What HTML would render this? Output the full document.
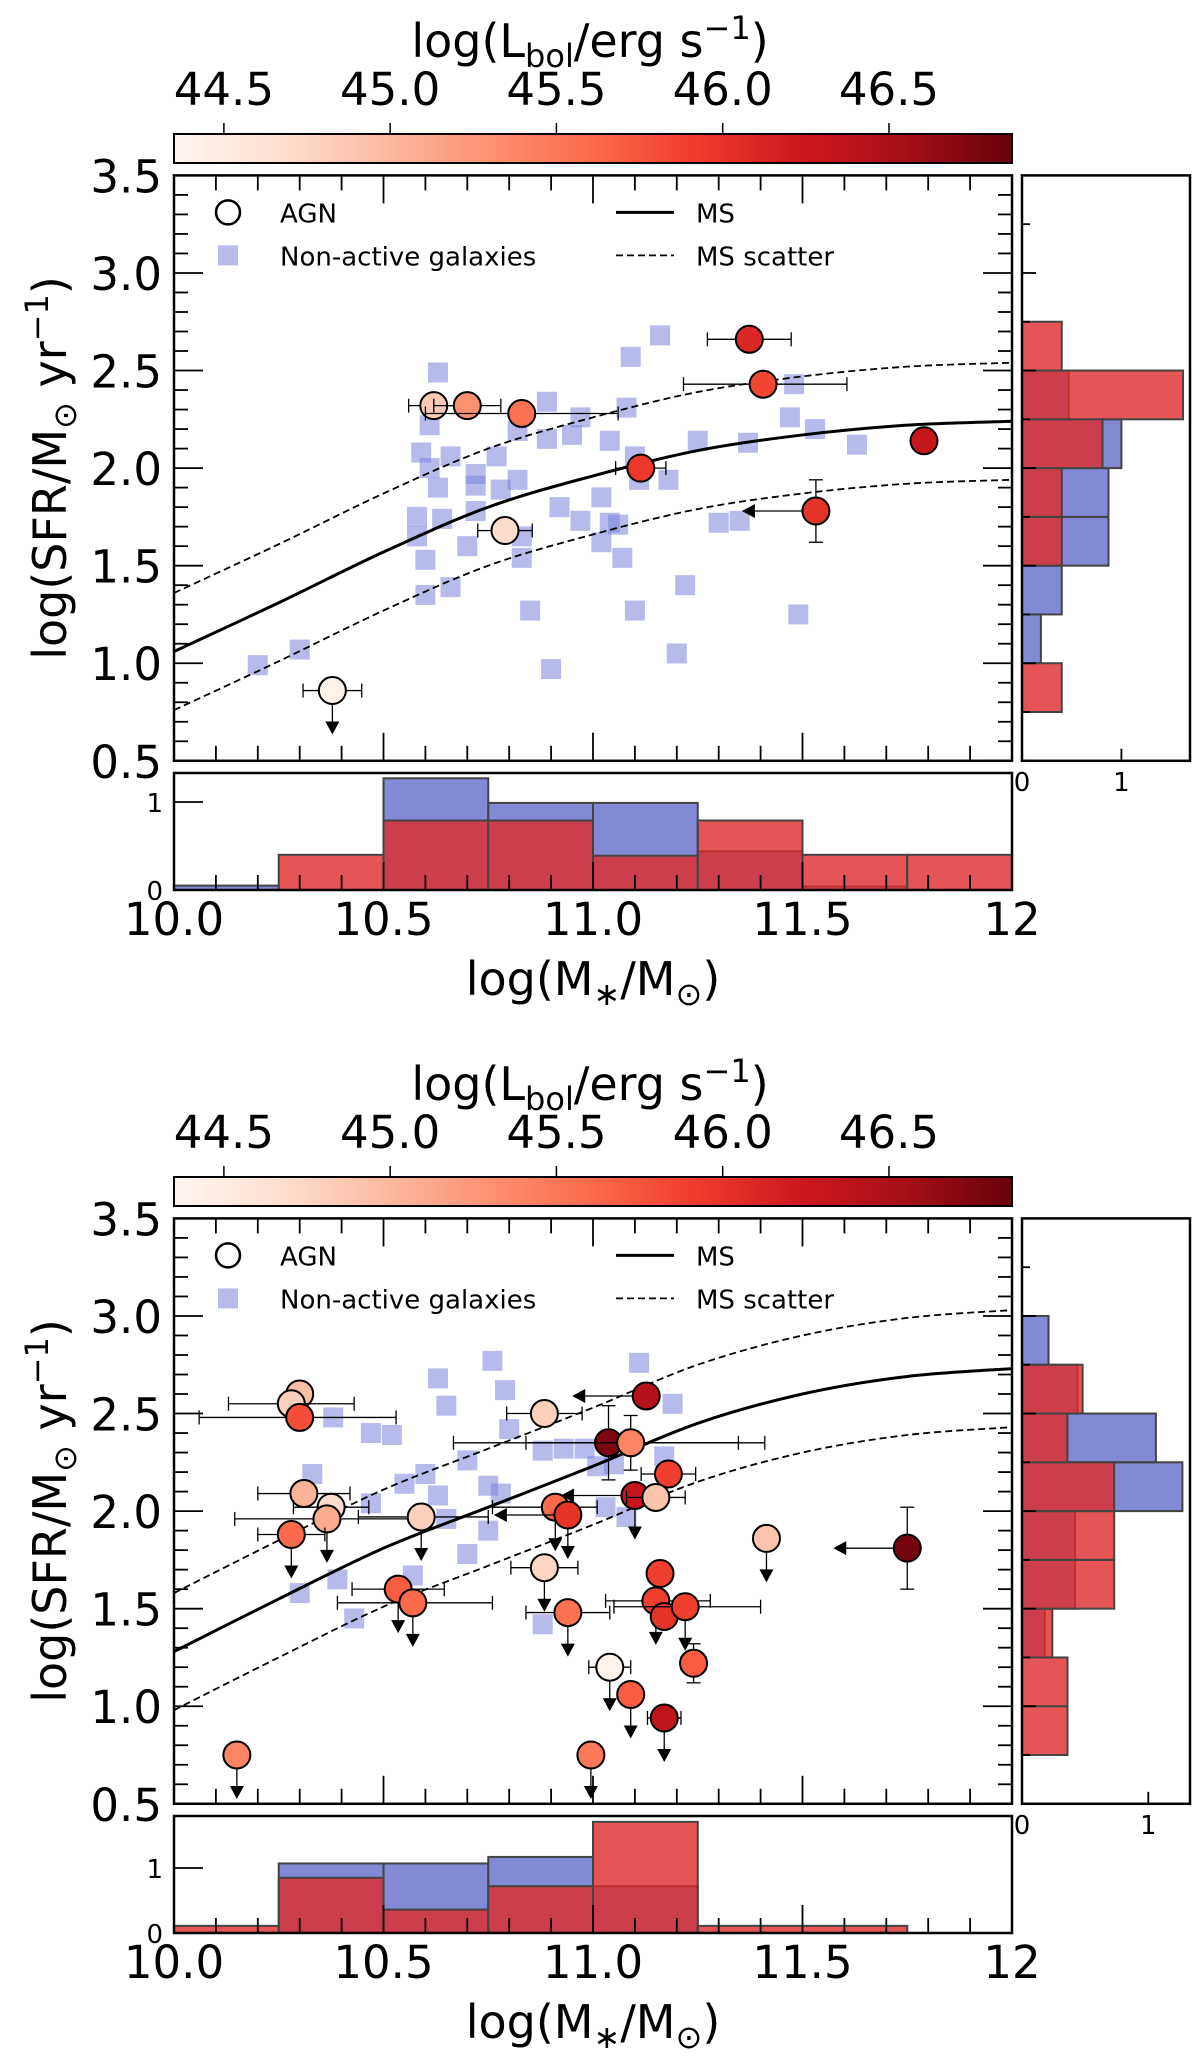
<!DOCTYPE html>
<html><head><meta charset="utf-8">
<style>
html,body{margin:0;padding:0;background:#fff;}
svg{display:block;font-family:"DejaVu Sans","Liberation Sans",sans-serif;}
</style></head>
<body>
<svg id="fig" width="1200" height="2061" viewBox="0 0 1200 2061" xmlns="http://www.w3.org/2000/svg">
<defs>
<linearGradient id="reds" x1="0" x2="1" y1="0" y2="0">
<stop offset="0" stop-color="#fff5f0"/><stop offset="0.125" stop-color="#fee0d2"/><stop offset="0.25" stop-color="#fcbba1"/><stop offset="0.375" stop-color="#fc9272"/><stop offset="0.5" stop-color="#fb6a4a"/><stop offset="0.625" stop-color="#ef3b2c"/><stop offset="0.75" stop-color="#cb181d"/><stop offset="0.875" stop-color="#a50f15"/><stop offset="1" stop-color="#67000d"/>
</linearGradient>
</defs>
</svg>
<script>
// ---- shared ----
const xTickVals=[10.0,10.5,11.0,11.5,12];
const xTickLabels=["10.0","10.5","11.0","11.5","12"];
const yTickVals=[0.5,1.0,1.5,2.0,2.5,3.0,3.5];
const yTickLabels=["0.5","1.0","1.5","2.0","2.5","3.0","3.5"];
const cbTickVals=[44.5,45.0,45.5,46.0,46.5];
const cbTickLabels=["44.5","45.0","45.5","46.0","46.5"];
const cbMin=44.35, cbMax=46.87;
const msX=[10,10.25,10.5,10.75,11,11.25,11.5,11.75,12];
const histEdgesX=[10,10.25,10.5,10.75,11,11.25,11.5,11.75,12];
const histEdgesY=[0.75,1.0,1.25,1.5,1.75,2.0,2.25,2.5,2.75,3.0];

// ---- top panel data ----
const msY1=[1.06,1.31,1.57,1.80,1.96,2.09,2.17,2.22,2.24];
const agnX1=[10.378,10.62,10.70,10.83,10.79,11.114,11.373,11.406,11.532,11.79];
const agnY1=[0.86,2.32,2.32,2.28,1.68,2.00,2.66,2.43,1.78,2.14];
const agnL1=[44.4,44.85,45.3,45.55,44.7,45.95,46.1,45.85,46.0,46.3];
const agnXlo1=[0.07,0.06,0.08,0.23,0.065,0.06,0.1,0.19,0,0];
const agnXhi1=[0.07,0.06,0.08,0.23,0.065,0.06,0.1,0.2,0,0];
const agnYerr1=[0,0,0,0,0,0,0,0,0.16,0];
const agnUL1=[1,0,0,0,0,0,0,0,0,0];
const agnXUL1=[0,0,0,0,0,0,0,0,1,0];
const sqX1=[10.20,10.30,10.63,10.61,10.59,10.61,10.66,10.63,10.72,10.72,10.58,10.64,10.58,10.60,10.72,10.70,10.60,10.66,10.78,10.82,10.77,10.82,10.89,10.89,10.95,10.97,10.92,10.97,11.02,11.02,11.04,11.06,11.07,10.83,10.85,10.90,11.04,11.08,11.10,11.11,11.18,11.09,11.16,11.25,11.37,11.22,11.10,11.20,11.30,11.35,11.48,11.47,11.53,11.63,11.49,10.83];
const sqY1=[0.99,1.07,2.49,2.22,2.08,2.00,2.06,1.90,1.97,1.91,1.75,1.74,1.65,1.53,1.78,1.60,1.35,1.39,1.89,1.94,2.06,2.19,2.34,2.15,2.17,2.26,1.80,1.73,1.85,1.62,1.72,1.71,1.54,1.54,1.27,0.97,2.14,2.31,2.06,1.94,1.94,2.57,2.68,2.14,2.13,1.40,1.27,1.05,1.72,1.73,2.43,2.26,2.20,2.12,1.25,1.65];
const hxBlue1=[0.05,0,1.27,0.99,0.99,0.44,0.04,0];
const hxRed1=[0,0.40,0.79,0.79,0.39,0.79,0.40,0.40];
const hyBlue1=[0,0.19,0.40,0.87,0.87,1.0,0.47,0.0,0];
const hyRed1=[0.40,0,0,0.40,0.40,0.81,1.62,0.40,0];

// ---- bottom panel data ----
const msY2=[1.28,1.55,1.81,2.02,2.23,2.45,2.60,2.69,2.73];
const agnX2=[10.30,10.28,10.30,10.884,11.127,11.037,11.09,11.18,11.10,11.15,10.31,10.375,10.365,10.28,10.59,10.91,10.94,10.884,11.414,11.75,10.535,10.57,10.94,11.16,11.15,11.17,11.22,11.24,11.04,11.09,11.17,10.15,10.995];
const agnY2=[2.60,2.55,2.48,2.50,2.59,2.35,2.35,2.19,2.08,2.07,2.09,2.02,1.96,1.88,1.97,2.02,1.98,1.71,1.86,1.81,1.60,1.53,1.48,1.68,1.54,1.46,1.51,1.22,1.20,1.06,0.94,0.75,0.75];
const agnL2=[44.95,44.8,45.8,44.8,46.45,46.75,45.4,45.9,46.3,44.9,45.05,44.7,45.1,45.6,44.8,45.6,46.0,44.75,44.9,46.8,45.7,45.6,45.55,45.9,45.9,46.0,45.9,45.7,44.4,45.7,46.35,45.4,45.5];
const agnXlo2=[0,0.15,0.24,0.09,0,0.37,0.25,0.065,0,0.07,0.11,0.09,0.22,0.08,0.15,0.15,0,0.08,0,0,0.11,0.18,0.1,0,0.12,0,0.17,0.03,0.05,0,0.04,0,0];
const agnXhi2=[0,0.15,0.23,0.09,0,0.31,0.32,0.065,0,0.07,0.11,0.09,0.2,0.08,0.16,0.1,0,0.08,0,0,0.11,0.19,0.1,0,0.13,0,0.18,0.03,0.05,0,0.04,0,0];
const agnYerr2=[0,0,0,0,0,0.19,0.14,0,0,0,0,0,0,0,0,0,0,0,0,0.21,0,0,0,0,0,0,0,0.1,0,0,0,0,0];
const agnUL2=[0,0,0,0,0,0,0,0,1,0,0,0,1,1,1,1,1,1,1,0,1,1,1,0,1,0,1,0,1,1,1,1,1];
const agnXUL2=[0,0,0,0,1,0,0,0,1,0,0,0,0,0,0,0,1,0,0,1,0,0,0,0,0,0,0,0,0,0,0,0,0];
const sqX2=[10.76,10.63,10.79,10.65,10.38,10.47,10.52,10.80,11.11,11.19,10.70,10.88,10.93,10.98,11.01,11.05,11.17,10.33,10.55,10.60,10.63,10.47,10.75,10.78,10.65,10.75,11.03,11.08,10.70,10.30,10.39,10.57,10.43,10.88];
const sqY2=[2.77,2.68,2.62,2.54,2.48,2.40,2.39,2.42,2.76,2.55,2.26,2.31,2.32,2.32,2.23,2.24,2.28,2.19,2.14,2.19,2.08,2.04,2.13,2.09,1.96,1.90,2.02,1.97,1.78,1.58,1.65,1.67,1.45,1.42];
const hxBlue2=[0,1.07,1.07,1.17,0.72,0,0,0];
const hxRed2=[0.11,0.85,0.36,0.72,1.71,0.11,0.11,0];
const hyBlue2=[0,0,0.18,0.42,0.42,1.27,1.06,0.44,0.21];
const hyRed2=[0.36,0.36,0.24,0.73,0.73,0.73,0.36,0.48,0];

// ---- drawing ----
const svg=document.getElementById('fig');
const NS="http://www.w3.org/2000/svg";
function mk(tag,attrs,parent,text){const e=document.createElementNS(NS,tag);for(const k in attrs)e.setAttribute(k,attrs[k]);if(text!==undefined)e.textContent=text;(parent||svg).appendChild(e);return e;}
const stops=[[0,[255,245,240]],[0.125,[254,224,210]],[0.25,[252,187,161]],[0.375,[252,146,114]],[0.5,[251,106,74]],[0.625,[239,59,44]],[0.75,[203,24,29]],[0.875,[165,15,21]],[1,[103,0,13]]];
function cmap(v){let t=(v-cbMin)/(cbMax-cbMin);t=Math.max(0,Math.min(1,t));for(let i=1;i<stops.length;i++){if(t<=stops[i][0]){const a=stops[i-1],b=stops[i];const f=(t-a[0])/(b[0]-a[0]);const c=a[1].map((x,j)=>Math.round(x+(b[1][j]-x)*f));return `rgb(${c.join(',')})`;}}return 'rgb(103,0,13)';}
const PL=174,PR=1012,PT=175.4,PB=760.8;
const X=v=>PL+(v-10)*(PR-PL)/2;
const CBX=v=>PL+(v-cbMin)*(PR-PL)/(cbMax-cbMin);

function panel(off,d,name){
  const g=mk('g',{},svg);
  
  
  const Y=v=>off+PT+(3.5-v)*(PB-PT)/3;
  // colorbar
  const cb=mk('g',{},g);
  
  
  mk('rect',{x:PL,y:off+134,width:PR-PL,height:29,fill:'url(#reds)',stroke:'#000','stroke-width':2},cb);
  cbTickVals.forEach((v,i)=>{
    mk('line',{x1:CBX(v),x2:CBX(v),y1:off+134,y2:off+123,stroke:'#000','stroke-width':1.5},cb);
    const t=mk('text',{x:CBX(v),y:off+105,'font-size':45,'text-anchor':'middle'},cb,cbTickLabels[i]);
    
    
  });
  const ct=mk('text',{x:590,y:off+57,'font-size':46,'text-anchor':'middle'},cb);
  
  
  ct.innerHTML='log(L<tspan font-size="32" dy="10">bol</tspan><tspan dy="-10">/erg s</tspan><tspan font-size="32" dy="-18">−1</tspan><tspan dy="18">)</tspan>';
  // main plot
  const pg=mk('g',{},g);
  
  
  const clipId='clip'+off;
  const cp=mk('clipPath',{id:clipId},pg);mk('rect',{x:PL,y:off+PT,width:PR-PL,height:PB-PT},cp);
  d.sqX.forEach((x,i)=>{
    const r=mk('rect',{x:X(x)-10,y:Y(d.sqY[i])-10,width:20,height:20,fill:'#7c84dc','fill-opacity':0.55},pg);
    
    
  });
  function smooth(offset){const p=msX.map((x,i)=>[X(x),Y(d.msY[i]+offset)]);let s='M'+p[0][0]+','+p[0][1];for(let i=0;i<p.length-1;i++){const p0=p[Math.max(0,i-1)],p1=p[i],p2=p[i+1],p3=p[Math.min(p.length-1,i+2)];s+=`C${p1[0]+(p2[0]-p0[0])/6},${p1[1]+(p2[1]-p0[1])/6} ${p2[0]-(p3[0]-p1[0])/6},${p2[1]-(p3[1]-p1[1])/6} ${p2[0]},${p2[1]}`;}return s;}
  const ms=mk('path',{d:smooth(0),fill:'none',stroke:'#000','stroke-width':3,'clip-path':`url(#${clipId})`},pg);
  
  
  [0.3,-0.3].forEach(o=>{
    const l=mk('path',{d:smooth(o),fill:'none',stroke:'#000','stroke-width':1.8,'stroke-dasharray':'7,4','clip-path':`url(#${clipId})`},pg);
    
    
  });
  d.agnX.forEach((x,i)=>{
    const a=mk('g',{},pg);
    
    
    const cx=X(x),cy=Y(d.agnY[i]);
    if(d.agnXlo[i]>0||d.agnXhi[i]>0){
      const x1=X(x-d.agnXlo[i]),x2=X(x+d.agnXhi[i]);
      mk('line',{x1:x1,x2:x2,y1:cy,y2:cy,stroke:'#000','stroke-width':1.3},a);
      mk('line',{x1:x1,x2:x1,y1:cy-7,y2:cy+7,stroke:'#000','stroke-width':1.3},a);
      mk('line',{x1:x2,x2:x2,y1:cy-7,y2:cy+7,stroke:'#000','stroke-width':1.3},a);
    }
    if(d.agnYerr[i]>0){
      const y1=Y(d.agnY[i]+d.agnYerr[i]),y2=Y(d.agnY[i]-d.agnYerr[i]);
      mk('line',{x1:cx,x2:cx,y1:y1,y2:y2,stroke:'#000','stroke-width':1.3},a);
      mk('line',{x1:cx-7,x2:cx+7,y1:y1,y2:y1,stroke:'#000','stroke-width':1.3},a);
      mk('line',{x1:cx-7,x2:cx+7,y1:y2,y2:y2,stroke:'#000','stroke-width':1.3},a);
    }
    if(d.agnUL[i]){
      mk('line',{x1:cx,x2:cx,y1:cy,y2:cy+32,stroke:'#000','stroke-width':1.3},a);
      mk('path',{d:`M${cx-7},${cy+31}L${cx+7},${cy+31}L${cx},${cy+44}Z`,fill:'#000'},a);
    }
    if(d.agnXUL[i]){
      mk('line',{x1:cx,x2:cx-62,y1:cy,y2:cy,stroke:'#000','stroke-width':1.3},a);
      mk('path',{d:`M${cx-61},${cy-7}L${cx-61},${cy+7}L${cx-74},${cy}Z`,fill:'#000'},a);
    }
    mk('circle',{cx:cx,cy:cy,r:13.5,fill:cmap(d.agnL[i]),stroke:'#000','stroke-width':2},a);
  });
  mk('rect',{x:PL,y:off+PT,width:PR-PL,height:PB-PT,fill:'none',stroke:'#000','stroke-width':2.5},pg);
  for(let k=0;k<=20;k++){const v=10+k*0.1;const xx=X(v);const L=(k%5==0)?28:15;
    mk('line',{x1:xx,x2:xx,y1:off+PT,y2:off+PT+L,stroke:'#000','stroke-width':1.8},pg);
    mk('line',{x1:xx,x2:xx,y1:off+PB,y2:off+PB-L,stroke:'#000','stroke-width':1.8},pg);}
  for(let k=0;k<=30;k++){const v=0.5+k*0.1;const yy=Y(v);const L=(k%5==0)?29:14;
    mk('line',{x1:PL,x2:PL+L,y1:yy,y2:yy,stroke:'#000','stroke-width':1.8},pg);
    mk('line',{x1:PR,x2:PR-L,y1:yy,y2:yy,stroke:'#000','stroke-width':1.8},pg);}
  yTickVals.forEach((v,i)=>{const t=mk('text',{x:162,y:Y(v)+17,'font-size':45,'text-anchor':'end'},pg,yTickLabels[i]);
    
    });
  const yt=mk('text',{transform:`translate(${66},${off+468}) rotate(-90)`,'font-size':46,'text-anchor':'middle'},pg);
  
  
  yt.innerHTML='log(SFR/M<tspan font-size="32" dy="10">⊙</tspan><tspan dy="-10"> yr</tspan><tspan font-size="32" dy="-18">−1</tspan><tspan dy="18">)</tspan>';
  const lg=mk('g',{},pg);
  
  
  const ly1=off+PT+37, ly2=off+PT+80;
  mk('circle',{cx:228,cy:ly1,r:12,fill:'#fff',stroke:'#000','stroke-width':2.5},lg);
  mk('text',{x:280,y:ly1+10,'font-size':26},lg,'AGN');
  mk('rect',{x:218,y:ly2-10,width:20,height:20,fill:'#7c84dc','fill-opacity':0.55},lg);
  mk('text',{x:280,y:ly2+10,'font-size':26},lg,'Non-active galaxies');
  mk('line',{x1:616,x2:674,y1:ly1,y2:ly1,stroke:'#000','stroke-width':3},lg);
  mk('text',{x:696,y:ly1+10,'font-size':26},lg,'MS');
  mk('line',{x1:616,x2:674,y1:ly2,y2:ly2,stroke:'#000','stroke-width':1.8,'stroke-dasharray':'7,4'},lg);
  mk('text',{x:696,y:ly2+10,'font-size':26},lg,'MS scatter');
  const hb=mk('g',{},g);
  
  
  const HT=off+773,HB=off+890;
  const HY=v=>HB-v*(HB-HT)/d.hxMax;
  function bars(vals,fill,op,edges,horiz,par,nm){vals.forEach((v,i)=>{if(v<=0)return;let r;
    if(!horiz){r=mk('rect',{x:X(edges[i]),y:HY(v),width:X(edges[i+1])-X(edges[i]),height:HB-HY(v),fill:fill,'fill-opacity':op,stroke:'#444','stroke-width':2},par);}
    else{const HX=u=>1022+u*168/d.hyMax;r=mk('rect',{x:1022,y:Y(edges[i+1]),width:HX(v)-1022,height:Y(edges[i])-Y(edges[i+1]),fill:fill,'fill-opacity':op,stroke:'#444','stroke-width':2},par);}
    
    });}
  bars(d.hxBlue,'#3f4bbf',0.65,histEdgesX,false,hb,'hist-bar-non-active');
  bars(d.hxRed,'#e02a2a',0.8,histEdgesX,false,hb,'hist-bar-agn');
  mk('rect',{x:PL,y:HT,width:PR-PL,height:HB-HT,fill:'none',stroke:'#000','stroke-width':2.5},hb);
  [0,1].forEach(v=>{mk('line',{x1:PL,x2:PL+29,y1:HY(v),y2:HY(v),stroke:'#000','stroke-width':1.8},hb);
    mk('text',{x:163,y:HY(v)+10,'font-size':26,'text-anchor':'end'},hb,String(v));});
  for(let k=0;k<=20;k++){const xx=X(10+k*0.1);const L=(k%5==0)?28:15;mk('line',{x1:xx,x2:xx,y1:HB,y2:HB-L,stroke:'#000','stroke-width':1.8},hb);}
  xTickVals.forEach((v,i)=>{const t=mk('text',{x:X(v),y:off+935,'font-size':45,'text-anchor':'middle'},hb,xTickLabels[i]);
    
    });
  const xt=mk('text',{x:593,y:off+995,'font-size':46,'text-anchor':'middle'},hb);
  
  
  xt.innerHTML='log(M<tspan font-size="32" dy="10">∗</tspan><tspan dy="-10">/M</tspan><tspan font-size="32" dy="10">⊙</tspan><tspan dy="-10">)</tspan>';
  const hr=mk('g',{},g);
  
  
  bars(d.hyBlue,'#3f4bbf',0.65,histEdgesY,true,hr,'hist-bar-non-active');
  bars(d.hyRed,'#e02a2a',0.8,histEdgesY,true,hr,'hist-bar-agn');
  mk('rect',{x:1022,y:off+PT,width:168,height:PB-PT,fill:'none',stroke:'#000','stroke-width':2.5},hr);
  for(let k=0;k<=12;k++){const v=0.5+k*0.25;const yy=Y(v);mk('line',{x1:1022,x2:1022+((k%2==0)?14:8),y1:yy,y2:yy,stroke:'#000','stroke-width':1.8},hr);}
  [0,1].forEach(v=>{const xx=1022+v*168/d.hyMax;mk('line',{x1:xx,x2:xx,y1:off+PB,y2:off+PB-12,stroke:'#000','stroke-width':1.8},hr);
    mk('text',{x:xx,y:off+PB+30,'font-size':26,'text-anchor':'middle'},hr,String(v));});
}
panel(0,{msY:msY1,agnX:agnX1,agnY:agnY1,agnL:agnL1,agnXlo:agnXlo1,agnXhi:agnXhi1,agnYerr:agnYerr1,agnUL:agnUL1,agnXUL:agnXUL1,sqX:sqX1,sqY:sqY1,hxBlue:hxBlue1,hxRed:hxRed1,hyBlue:hyBlue1,hyRed:hyRed1,hxMax:1.33,hyMax:1.69},'top-panel');
panel(1043,{msY:msY2,agnX:agnX2,agnY:agnY2,agnL:agnL2,agnXlo:agnXlo2,agnXhi:agnXhi2,agnYerr:agnYerr2,agnUL:agnUL2,agnXUL:agnXUL2,sqX:sqX2,sqY:sqY2,hxBlue:hxBlue2,hxRed:hxRed2,hyBlue:hyBlue2,hyRed:hyRed2,hxMax:1.80,hyMax:1.33},'bottom-panel');
</script>
</body></html>
